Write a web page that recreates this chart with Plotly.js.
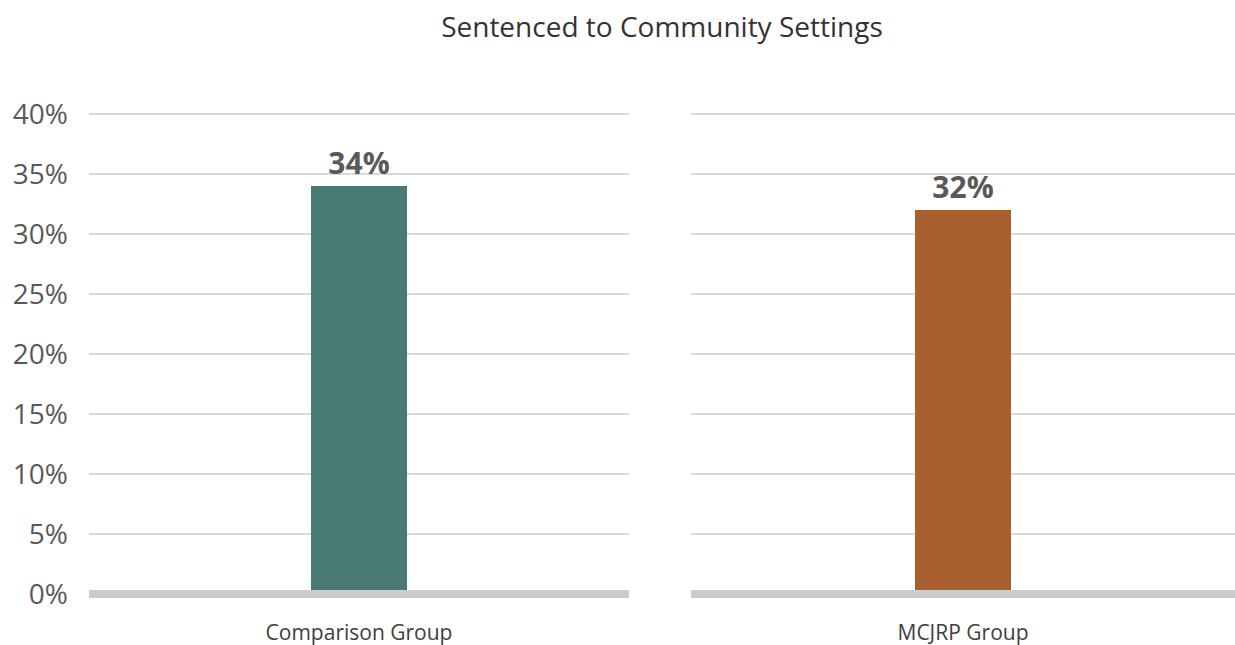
<!DOCTYPE html>
<html>
<head>
<meta charset="utf-8">
<script src="https://cdn.plot.ly/plotly-3.0.1.min.js"></script>
<style>
  html, body { margin: 0; padding: 0; background: #ffffff; }
  #chart { width: 1235px; height: 645px; }
</style>
</head>
<body>
<div id="chart"></div>
<script>
// Share of each group sentenced to community settings (percent)
const groups = ["Comparison Group", "MCJRP Group"];
const values = [34, 32];
const barColors = ["#4a7a76", "#a95e2d"];
const yTickValues = [0, 5, 10, 15, 20, 25, 30, 35, 40];
const yTickLabels = ["0%", "5%", "10%", "15%", "20%", "25%", "30%", "35%", "40%"];

const FONT = "'Open Sans', 'Noto Sans', sans-serif";
const labelColor = "#595959";

const axisNames = ["x", "x2"];
const traces = groups.map((g, i) => ({
  type: "bar",
  x: [g],
  y: [values[i]],
  xaxis: axisNames[i],
  yaxis: "y",
  width: 0.178,
  marker: { color: barColors[i] },
  text: [values[i] + "%"],
  texttemplate: "<b>%{text}</b>",
  textposition: "outside",
  cliponaxis: false,
  textfont: { family: FONT, size: 30, color: labelColor },
  hoverinfo: "skip",
  showlegend: false
}));

const xCommon = {
  type: "category",
  showgrid: false,
  zeroline: false,
  showline: false,
  ticks: "",
  ticklabelstandoff: 18,
  tickfont: { family: FONT, size: 21, color: "#404040" },
  anchor: "y",
  fixedrange: true
};

// thick grey floor line under each panel
const baseline = (xref) => ({
  type: "line",
  xref: xref,
  yref: "y",
  x0: 0, x1: 1,
  y0: 0, y1: 0,
  line: { color: "#cccccc", width: 8 },
  layer: "above"
});

const layout = {
  width: 1235,
  height: 645,
  margin: { l: 0, r: 0, t: 110, b: 45 },
  paper_bgcolor: "#ffffff",
  plot_bgcolor: "#ffffff",
  title: {
    text: "Sentenced to Community Settings",
    font: { family: FONT, size: 28, color: "#333333" },
    x: 0.536,
    xanchor: "center",
    xref: "container",
    y: 1 - 27 / 645,
    yanchor: "middle",
    yref: "container"
  },
  xaxis: Object.assign({}, xCommon, { domain: [89 / 1235, 629 / 1235] }),
  xaxis2: Object.assign({}, xCommon, { domain: [691 / 1235, 1] }),
  yaxis: {
    range: [-0.5, 40.3333],
    tickvals: yTickValues,
    ticktext: yTickLabels,
    showgrid: true,
    gridcolor: "#d9d9d9",
    gridwidth: 1.3,
    zeroline: false,
    showline: false,
    ticks: "",
    ticklabelstandoff: 20,
    automargin: false,
    tickfont: { family: FONT, size: 28, color: labelColor },
    anchor: "x",
    fixedrange: true
  },
  shapes: [baseline("x domain"), baseline("x2 domain")],
  bargap: 0
};

Plotly.newPlot("chart", traces, layout, { displayModeBar: false, staticPlot: true });
</script>
</body>
</html>
